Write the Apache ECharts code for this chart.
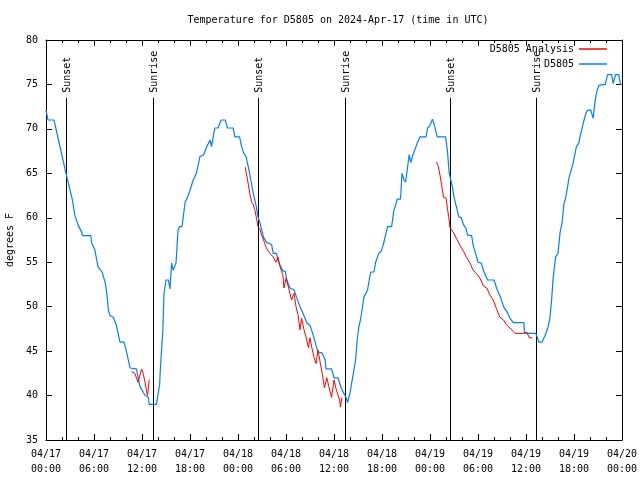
<!DOCTYPE html>
<html><head><meta charset="utf-8">
<script src="https://cdn.jsdelivr.net/npm/echarts@6/dist/echarts.min.js"></script>
<style>html,body{margin:0;padding:0;background:#fff}#c{width:640px;height:480px}</style>
</head><body><div id="c"></div>
<script>
// hours since 2024-04-17 00:00 UTC
const obsHours = [0,0.25,1,2.5,3.3,3.6,4.0,4.5,4.55,5.6,5.7,6.1,6.5,7.0,7.4,7.6,7.8,8.0,8.4,8.8,9.25,9.75,10.1,10.5,11.3,11.75,12.4,12.8,12.9,13.8,14.2,14.3,14.6,14.75,15.0,15.3,15.5,15.7,15.9,16.25,16.5,16.7,17.0,17.4,17.6,18.0,18.4,18.8,19.25,19.7,20.1,20.5,20.7,20.9,21.1,21.5,21.9,22.4,22.7,23.4,23.6,24.2,24.4,24.7,25.0,25.3,25.6,25.9,26.3,26.5,26.75,27.2,27.6,28.2,28.4,28.8,29.0,29.25,29.6,29.9,30.1,30.5,31.0,31.3,31.75,32.2,32.6,33.0,33.4,33.8,34.0,34.5,34.9,35.0,35.7,36.0,36.5,36.9,37.2,37.5,37.7,38.0,38.7,38.9,39.1,39.3,39.5,39.75,39.95,40.2,40.4,40.6,41.0,41.2,41.6,41.9,42.25,42.5,42.7,43.2,43.5,43.7,43.9,44.3,44.4,44.5,44.75,44.95,45.2,45.4,45.6,45.8,46.0,46.4,46.75,47.5,47.7,48.0,48.3,48.5,48.9,49.95,50.2,50.4,50.8,51.0,51.2,51.4,51.6,51.9,52.2,52.5,52.7,53.2,53.4,53.7,54.0,54.4,54.75,55.2,56.0,56.4,56.8,57.2,57.7,58.0,58.4,59.75,59.8,61.2,61.4,61.6,62.0,62.5,62.75,63.0,63.2,63.4,63.7,64.0,64.25,64.5,64.75,64.95,65.2,65.4,65.6,65.9,66.1,66.3,66.6,66.8,67.2,67.5,67.7,68.1,68.4,68.6,68.8,69.1,69.9,70.2,70.7,70.9,71.2,71.6,71.8,72];
const obsTemps = [72.1,71,71,65,62,60.3,59.2,58.3,58,58,57.2,56.4,54.5,53.9,52.7,51.5,49.6,49,48.8,47.9,46,46,44.8,43.1,43,41,40,39.8,39,39,41.2,43.1,47.2,51.5,53,53,52,54.9,54.1,54.9,58.6,59,59,61.8,62.1,63.1,64.25,65,66.9,67.1,68,68.75,68,69.1,70.1,70.1,71,71,70.1,70.1,69.1,69.1,68.2,67.3,66.9,65.7,64.25,62.8,61.2,60.1,59.4,57.8,57.2,57,56,56,55.25,54.7,54,54,53,52.1,51.9,51.1,50,49.1,48.2,47.9,46.8,45.5,44.9,44.8,44,43,43,42,42,40.85,40.3,39.8,39.2,40.3,44,46.25,47.7,48.5,49.6,51.1,51.3,51.9,53,53.9,53.9,55,56,56.2,57.3,58.3,59,59,60.9,61.4,62.1,62.1,63.35,65,64.25,64,64,67.1,66.2,66.9,67.1,68.4,69.1,69.1,70.1,70.4,71.1,70.6,69.1,69.1,67.3,65,63.5,62.3,61.6,60.9,60.1,60,59.2,58.8,58.05,58,56.9,56,55,54.9,53.9,53,53,51.9,51.1,50,49.3,48.7,48.2,48.2,47,47,46.6,46,46,47,47.7,48.8,50.75,53.3,55.6,56,58.3,59.4,61.6,62.2,63.5,64.6,65.2,66.2,67.1,68,68.4,69.3,70.8,71.8,72.1,72.1,71.2,72.9,74,74.9,75,76.1,76.1,75.1,76.1,76.1,75,75];

// analysis segments (null = gap)
const anaHours = [10.7,11.1,11.5,11.75,11.95,12.15,12.4,12.6,12.7,12.9,null,
  24.9,25.0,25.2,25.3,25.5,25.7,25.9,26.1,26.3,26.5,26.75,26.95,27.2,27.5,27.8,28.0,28.4,28.75,29.0,29.25,29.6,29.75,30.0,30.3,30.7,31.0,31.25,31.5,31.75,31.95,32.25,32.5,32.8,33.0,33.2,33.5,33.75,34.0,34.3,34.6,34.8,35.1,35.4,35.7,36.0,36.3,36.7,36.8,37.0,null,
  48.8,49.0,49.25,49.45,49.7,50.0,50.2,50.4,50.5,50.9,51.3,51.75,52.2,52.6,53.0,53.4,53.8,54.25,54.7,55.1,55.5,55.9,56.3,56.7,57.2,57.6,58.0,58.6,59.7,60.1,60.4,60.8];
const anaTemps = [42.7,42.5,41.5,41.4,43,42.5,41.4,40.3,40,41.8,null,
  65.7,65.5,64.25,63.7,62.6,61.8,61.5,60.9,60,59,58.7,58.05,57.5,56.7,56.2,56.4,55.6,55,55.6,54.5,53.6,52.1,53.2,52.2,50.75,51.5,50,49.1,47.4,48.7,47.4,46.6,45.4,46.5,45.5,44.3,43.6,45.1,43.6,42.1,40.85,42,40.85,39.8,41.75,40.6,39.5,38.7,39.8,null,
  66.3,65.9,64.8,63.7,62.3,62.2,60.9,59.75,58.85,58.4,57.7,56.9,56.2,55.5,54.9,54.1,53.75,53.2,52.3,52.1,51.3,50.75,49.8,48.85,48.5,47.9,47.6,47,47,47.15,46.5,46.5];

const eventHours = [2.5, 13.375, 26.5, 37.375, 50.5, 61.25];
const eventLabels = ['Sunset','Sunrise','Sunset','Sunrise','Sunset','Sunrise'];
const eventTop = 73.5;

const FONT = 'DejaVu Sans Mono';
const obsData = obsHours.map((h,i)=>[h, obsTemps[i]]);
const anaData = anaHours.map((h,i)=> h===null ? [null,null] : [h, anaTemps[i]]);
const evData = eventHours.map((h,i)=>[h,i]);

function fmtX(v){
  const d = 17 + Math.floor(v/24);
  const hh = v % 24;
  return '04/' + d + '\n' + String(hh).padStart(2,'0') + ':00';
}
const xCommon = {
  type:'value', min:0, max:72, interval:6,
  axisLine:{show:true, onZero:false, lineStyle:{color:'#000', width:1}},
  axisTick:{show:true, inside:true, length:6, lineStyle:{color:'#000'}},
  minorTick:{show:true, splitNumber:3, length:3, lineStyle:{color:'#000'}},
  splitLine:{show:false}
};
const yCommon = {
  type:'value', min:35, max:80, interval:5,
  axisLine:{show:true, onZero:false, lineStyle:{color:'#000', width:1}},
  axisTick:{show:true, inside:true, length:6, lineStyle:{color:'#000'}},
  splitLine:{show:false}
};
const chart = echarts.init(document.getElementById('c'));
chart.setOption({
  animation:false,
  backgroundColor:'#fff',
  title:{text:'Temperature for D5805 on 2024-Apr-17 (time in UTC)', left:333, textAlign:'center', top:10,
    textStyle:{fontFamily:FONT, fontSize:10, fontWeight:'normal', color:'#000'}},
  grid:{left:46, right:18, top:40, bottom:40, containLabel:false, outerBoundsMode:'none'},
  legend:[
    {data:['D5805 Analysis'], right:28, top:39, align:'right', icon:'rect', itemWidth:28, itemHeight:1.5,
      textStyle:{fontFamily:FONT, fontSize:10, color:'#000'}},
    {data:['D5805'], right:28, top:54, align:'right', icon:'rect', itemWidth:28, itemHeight:1.5,
      textStyle:{fontFamily:FONT, fontSize:10, color:'#000'}}
  ],
  xAxis:[
    Object.assign({}, xCommon, {position:'bottom',
      axisLabel:{formatter:fmtX, fontFamily:FONT, fontSize:10, color:'#000', lineHeight:15, margin:7}}),
    Object.assign({}, xCommon, {position:'top', axisLabel:{show:false}})
  ],
  yAxis:[
    Object.assign({}, yCommon, {position:'left', name:'degrees F', nameLocation:'middle', nameGap:31,
      nameTextStyle:{fontFamily:FONT, fontSize:10, color:'#000'},
      axisLabel:{fontFamily:FONT, fontSize:10, color:'#000', margin:8}}),
    Object.assign({}, yCommon, {position:'right', axisLabel:{show:false}})
  ],
  series:[
    {type:'custom', xAxisIndex:0, yAxisIndex:0, data:evData, silent:true, z:1,
      renderItem:function(params, api){
        const x = api.value(0);
        const p0 = api.coord([x, 35]);
        const p1 = api.coord([x, eventTop]);
        const px = Math.round(p0[0]) + 0.5;
        return {type:'group', children:[
          {type:'line', shape:{x1:px, y1:p0[1], x2:px, y2:p1[1]}, style:{stroke:'#000', lineWidth:1}},
          {type:'text', x:px+1, y:p1[1]-5, rotation:Math.PI/2,
            style:{text:eventLabels[api.value(1)], textAlign:'left', textVerticalAlign:'middle',
              font:'10px "DejaVu Sans Mono"', fill:'#000'}}
        ]};
      }},
    {name:'D5805 Analysis', type:'line', data:anaData, showSymbol:false, symbol:'none', connectNulls:false,
      lineStyle:{color:'#ff0000', width:1}, itemStyle:{color:'#ff0000'}, z:3},
    {name:'D5805', type:'line', data:obsData, showSymbol:false, symbol:'none',
      lineStyle:{color:'#0080ff', width:1.2}, itemStyle:{color:'#0080ff'}, z:2}
  ]
});
</script></body></html>
